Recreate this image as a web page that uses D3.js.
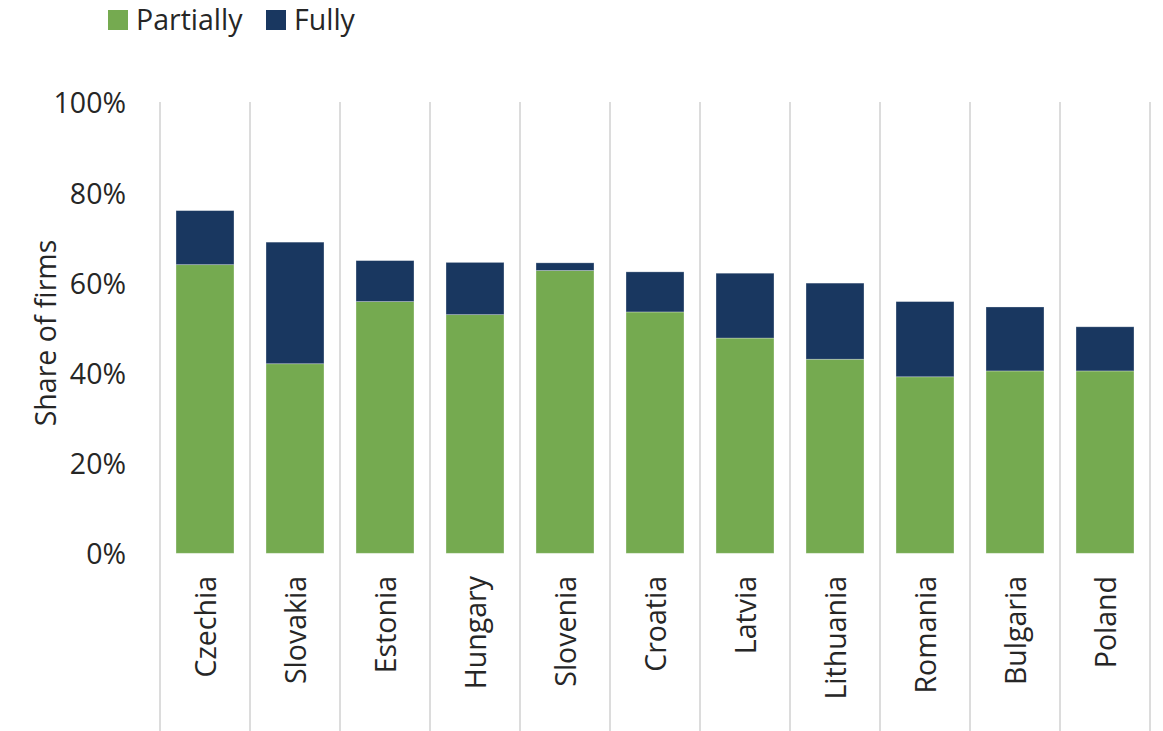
<!DOCTYPE html>
<html><head><meta charset="utf-8">
<script src="https://cdn.jsdelivr.net/npm/d3@7"></script>
<style>
body{margin:0;background:#fff;}
text{font-family:"Open Sans","Noto Sans",sans-serif;fill:#262626;}
</style></head>
<body><svg id="c" width="1163" height="731"></svg>
<script>
const categories = ["Czechia","Slovakia","Estonia","Hungary","Slovenia","Croatia","Latvia","Lithuania","Romania","Bulgaria","Poland"];
const partially = [64.1,42.1,55.9,53.0,62.8,53.6,47.8,43.1,39.2,40.5,40.5];
const fully = [12.0,27.0,9.1,11.6,1.7,8.9,14.4,16.9,16.7,14.2,9.8];
const yTicks = [0,20,40,60,80,100];
const seriesNames = ["Partially","Fully"];
const colors = ["#75AA50","#193760"];
const fs = "28.5px";

const svg = d3.select("#c");
const x = d3.scaleBand().domain(categories).range([160,1150]).paddingInner(0.356).paddingOuter(0.178);
const y = d3.scaleLinear().domain([0,100]).range([553.3,103]);

// category separators
const step = x.step();
const seps = d3.range(categories.length+1).map(i => 160 + i*step);
svg.append("g").selectAll("line").data(seps).join("line")
  .attr("x1",d=>d).attr("x2",d=>d).attr("y1",102).attr("y2",731)
  .attr("stroke","#dcdcdc").attr("stroke-width",2);

const data = categories.map((c,i)=>({cat:c, Partially:partially[i], Fully:fully[i]}));
const stack = d3.stack().keys(seriesNames)(data);
svg.append("g").selectAll("g").data(stack).join("g")
  .attr("fill",(d,i)=>colors[i])
  .selectAll("rect").data(d=>d).join("rect")
  .attr("x",d=>x(d.data.cat)).attr("width",x.bandwidth())
  .attr("y",d=>y(d[1])).attr("height",d=>y(d[0])-y(d[1]))
  .attr("stroke","rgba(255,255,255,0.35)").attr("stroke-width",0.8);

// y axis labels
const yAxis = d3.axisLeft(y).tickValues(yTicks).tickFormat(d=>d+"%").tickSize(0).tickPadding(0);
const ya = svg.append("g").attr("transform","translate(126,0)").call(yAxis);
ya.select(".domain").remove();
ya.selectAll("text").style("font-size",fs).attr("fill","#262626").attr("font-family",null).attr("dy","0.35em");

// x axis labels
const xAxis = d3.axisBottom(x).tickSize(0).tickPadding(0);
const xa = svg.append("g").attr("transform","translate(1,576)").call(xAxis);
xa.select(".domain").remove();
xa.selectAll("text").style("font-size",fs).attr("fill","#262626").attr("font-family",null)
  .attr("text-anchor","end").attr("transform","rotate(-90)").attr("x",0).attr("y",0).attr("dy","0.35em");

// y title
svg.append("text").attr("transform","translate(46,333) rotate(-90)").attr("text-anchor","middle")
  .attr("dy","0.35em").style("font-size",fs).text("Share of firms");

// legend
const legX = [108,266];
const leg = svg.append("g");
seriesNames.forEach((s,i)=>{
  leg.append("rect").attr("x",legX[i]).attr("y",10).attr("width",20).attr("height",20).attr("fill",colors[i]);
  leg.append("text").attr("x",legX[i]+28).attr("y",20).attr("dy","0.35em").style("font-size",fs).text(s);
});
</script></body></html>
